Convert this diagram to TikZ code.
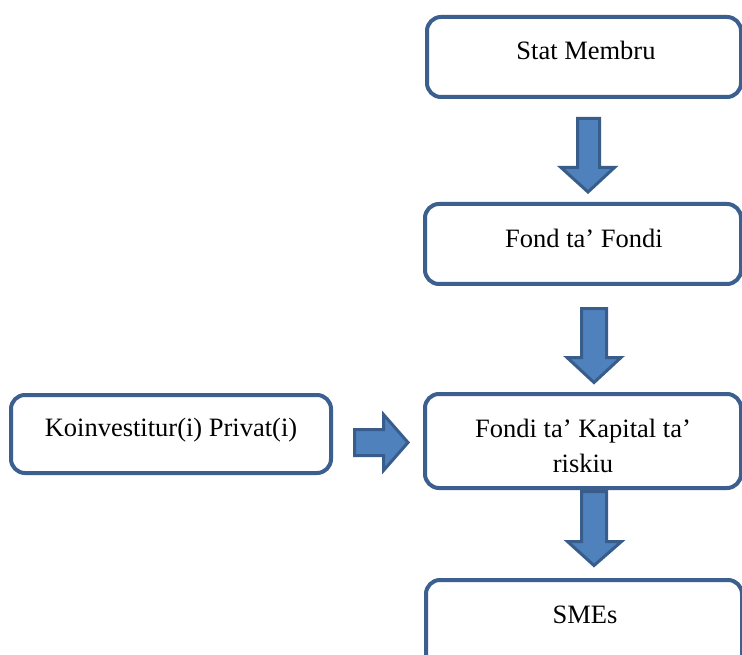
\documentclass[tikz,border=0pt]{standalone}
\usepackage{fontspec}
\setmainfont{Liberation Serif}
\definecolor{boxc}{HTML}{3B5F8E}
\definecolor{arrfill}{HTML}{4F81BD}
\definecolor{arrdraw}{HTML}{385D8A}
\begin{document}
\begin{tikzpicture}[x=1pt,y=-1pt,
  box/.style={draw=boxc,line width=4pt,rounded corners=14pt,fill=white,inner sep=0pt},
  txt/.style={font=\fontsize{26.5}{35}\selectfont,align=center,inner sep=0pt,text=black},
  blockarrow/.style={fill=arrfill,draw=arrdraw,line width=3pt,line join=miter}]
\useasboundingbox (0,0) rectangle (742,655);
\fill[white] (0,0) rectangle (742,655);
\clip (0,0) rectangle (742,655);
% boxes
\node[box,minimum width=314pt,minimum height=80pt] (sm) at (584,57) {};
\node[box,minimum width=316pt,minimum height=80pt] (ff) at (583,244) {};
\node[box,minimum width=316pt,minimum height=94pt] (fk) at (583,441) {};
\node[box,minimum width=316pt,minimum height=90pt] (sme) at (584,625) {};
\node[box,minimum width=320pt,minimum height=78pt] (ko) at (171,434) {};
% texts
\node[txt] (tsm) at (586,50) {Stat Membru};
\node[txt] (tff) at (584,238) {Fond ta’ Fondi};
\node[txt] (tfk) at (583,445.5) {Fondi ta’ Kapital ta’\\riskiu};
\node[txt] (tsme) at (585,615) {SMEs};
\node[txt] (tko) at (171,430) {Koinvestitur(i) Privat(i)};
% block arrows
\draw[blockarrow] (577.5,118.5) -- (599.5,118.5) -- (599.5,167.5) -- (614.5,167.5) -- (588,192) -- (561,167.5) -- (577.5,167.5) -- cycle;
\draw[blockarrow] (581.5,308.5) -- (606.5,308.5) -- (606.5,357.5) -- (621,357.5) -- (594,382.5) -- (567,357.5) -- (581.5,357.5) -- cycle;
\draw[blockarrow] (581.5,491.5) -- (606.5,491.5) -- (606.5,541.5) -- (621.5,541.5) -- (594,565.5) -- (567.5,541.5) -- (581.5,541.5) -- cycle;
\draw[blockarrow] (354.5,429.5) -- (383.5,429.5) -- (383.5,414.5) -- (408,442.5) -- (383.5,470.5) -- (383.5,455.5) -- (354.5,455.5) -- cycle;
\end{tikzpicture}
\end{document}
